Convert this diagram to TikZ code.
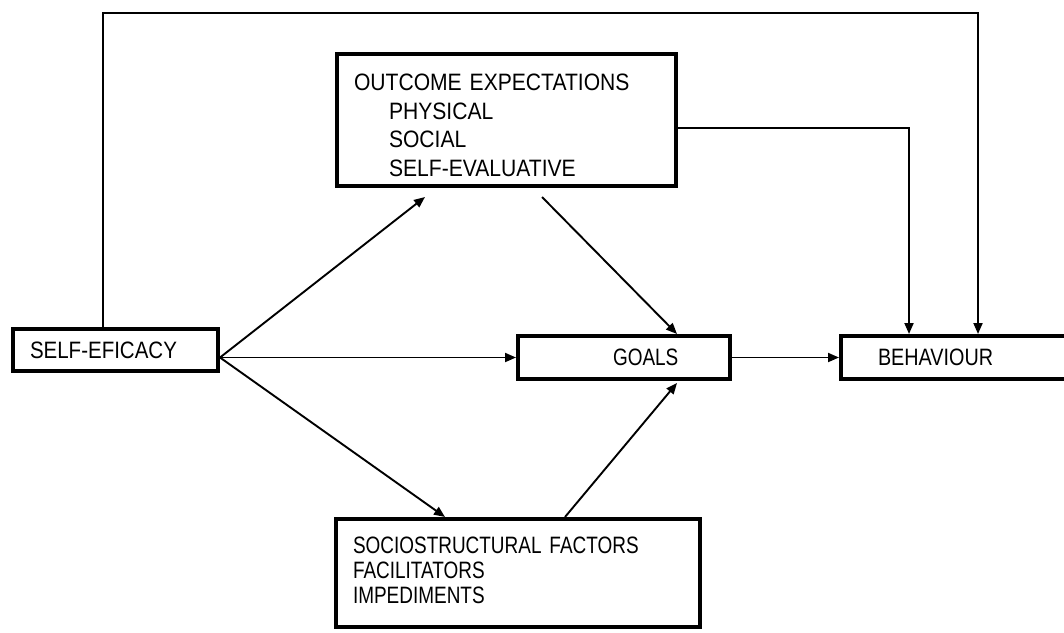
\documentclass[tikz,border=0pt]{standalone}
\usepackage{fontspec}
\setmainfont{Liberation Sans}[FakeStretch=0.865]
\newfontfamily\scwide{Liberation Sans}[FakeStretch=0.89]
\newfontfamily\scnarrow{Liberation Sans}[FakeStretch=0.80]
\newfontfamily\scmid{Liberation Sans}[FakeStretch=0.835]
\usetikzlibrary{arrows.meta,positioning}
\tikzset{
    scbox/.style={draw, line width=4pt, align=left, inner xsep=17pt,
        inner ysep=0pt, fill=white},
    scarrow/.style={-{Triangle[length=11pt,width=9pt]}, line width=1.9pt}
}

\begin{document}
\begin{tikzpicture}[x=1pt, y=-1pt, font=\fontsize{23.7}{28.5}\selectfont]
        \useasboundingbox (0,0) rectangle (1064,632);
        \clip (0,0) rectangle (1064,632);

        \node[scbox, minimum width=205pt, minimum height=42pt, text width=171pt]
            (efficacy) at (115.5,350) {SELF-EFICACY};
        \node[scbox, minimum width=339pt, minimum height=132pt, text width=305pt,
            font=\scwide\fontsize{23.7}{28.5}\selectfont] (outcome) at (506.5,120)
            {\rule{0pt}{27pt}OUTCOME EXPECTATIONS\\\hspace*{35pt}PHYSICAL\\\hspace*{35pt}SOCIAL\\\hspace*{35pt}SELF-EVALUATIVE};
        \node[scbox, minimum width=212pt, minimum height=43pt, text width=178pt,
            font=\scnarrow\fontsize{23.7}{28.5}\selectfont]
            (goals) at (624,357.5) {\hspace*{78pt}GOALS};
        \node[scbox, minimum width=227pt, minimum height=43pt, text width=193pt,
            font=\scmid\fontsize{23.7}{28.5}\selectfont]
            (behaviour) at (954.5,357.5) {\hspace*{20pt}BEHAVIOUR};
        \node[scbox, minimum width=364pt, minimum height=108pt, text width=330pt,
            font=\scnarrow\fontsize{23.7}{25}\selectfont] (socio) at (518,573)
            {SOCIOSTRUCTURAL FACTORS\\FACILITATORS\\IMPEDIMENTS\rule[-6pt]{0pt}{6pt}};

        \coordinate (toprail) at (978,13);

        \draw[scarrow] (efficacy.east |- goals.west) -- ([xshift=90pt,yshift=-9pt]outcome.south west);
        \draw[scarrow] (efficacy.east |- goals.west) -- (goals.west);
        \draw[scarrow] (efficacy.east |- goals.west) -- ([xshift=111pt]socio.north west);
        \draw[scarrow] ([xshift=207pt,yshift=-9pt]outcome.south west) -- ([xshift=161pt]goals.north west);
        \draw[scarrow] ([xshift=231pt]socio.north west) -- ([xshift=161pt,yshift=-2pt]goals.south west);
        \draw[scarrow] (goals.east) -- (behaviour.west);
        \draw[scarrow] ([yshift=-8pt]outcome.east) -| ([xshift=70pt]behaviour.north west);
        \draw[scarrow] ([xshift=92pt]efficacy.north west) |- (toprail) -- ([xshift=139pt]behaviour.north west);
    \end{tikzpicture}
\end{document}
